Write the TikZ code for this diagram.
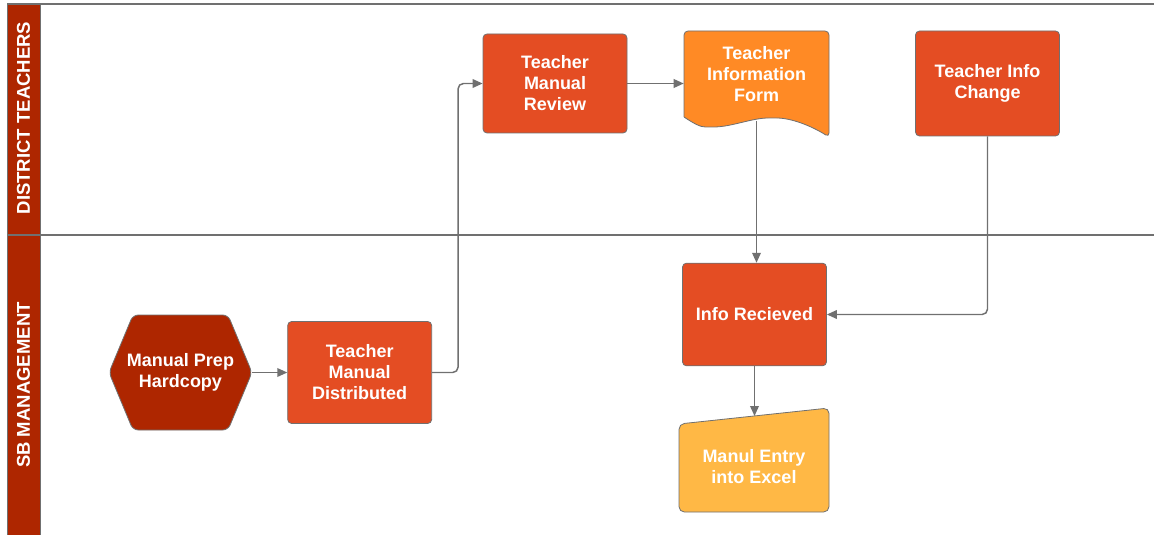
\documentclass[tikz,border=0pt]{standalone}
\usepackage{fontspec}
\setmainfont{Liberation Sans}
\usetikzlibrary{arrows.meta,positioning,backgrounds}
\definecolor{laneRed}{HTML}{AE2600}
\definecolor{boxRed}{HTML}{E44D23}
\definecolor{formOrange}{HTML}{FF8A25}
\definecolor{excelYellow}{HTML}{FFB845}
\definecolor{lineGray}{HTML}{707070}
\tikzset{
    procbox/.style={rectangle, rounded corners=3pt, draw=lineGray, fill=boxRed, line width=0.6pt, minimum width=108pt, minimum height=77pt, align=center, text=white, font=\bfseries\fontsize{13.5}{15.75}\selectfont},
    shapetext/.style={rectangle, minimum width=107.25pt, minimum height=86.25pt, align=center, text=white, font=\bfseries\fontsize{13.5}{15.75}\selectfont},
    lanetext/.style={text=white, font=\bfseries\fontsize{13.9}{17}\selectfont},
    laneline/.style={draw=lineGray, line width=1.1pt},
    hexshape/.style={fill=laneRed, draw=lineGray, line width=0.6pt, rounded corners=4pt},
    formshape/.style={fill=formOrange, draw=lineGray, line width=0.6pt, rounded corners=3pt},
    excelshape/.style={fill=excelYellow, draw=lineGray, line width=0.6pt, rounded corners=4pt},
    flow/.style={draw=lineGray, line width=1.1pt, -{Triangle[length=7.5pt,width=6.5pt]}, rounded corners=4pt}
}
\begin{document}
\begin{tikzpicture}[x=0.75pt, y=-0.75pt, node distance=26.25pt]
    \useasboundingbox (0,0) rectangle (1154,535);
    \begin{scope}[on background layer]
      \fill[white] (0,0) rectangle (1154,535);
    \end{scope}

    % swim lanes
    \filldraw[fill=laneRed, draw=lineGray, line width=0.6pt] (7,4) rectangle (40,535);
    \draw[laneline] (7,235) -- (1154,235);
    \draw[laneline, line width=1.5pt] (7,4) -- (1154,4);
    \node[lanetext, rotate=90] (teachers) at (23.5,118) {DISTRICT TEACHERS};
    \node[lanetext, rotate=90] (management) at (23.5,385) {SB MANAGEMENT};

    % steps
    \node[shapetext] (prep) at (180.5,372.5) {Manual Prep\\Hardcopy};
    \node[procbox, right=of prep, minimum height=76.5pt] (distributed)
      {Teacher\\Manual\\Distributed};
    \node[procbox, minimum height=74.25pt] (review) at (555,83.5)
      {Teacher\\Manual\\Review};
    \node[shapetext, minimum width=108.75pt] (form) at (756.5,74)
      {Teacher\\Information\\Form};
    \node[procbox, minimum height=78.75pt] (change) at (987.5,83.5)
      {Teacher Info\\Change};
    \node[procbox] (received) at (754.5,314.5) {Info Recieved};
    \node[shapetext] (excel) at (754,467) {Manul Entry\\into Excel};

    % shapes behind the texts
    \begin{scope}[on background layer]
      \begin{scope}[shift={(prep.center)}]
        \path[hexshape] (-71.5,0) -- (-47.5,-57.5) -- (47.5,-57.5) -- (71.5,0)
          -- (47.5,57.5) -- (-47.5,57.5) -- cycle;
      \end{scope}
      \begin{scope}[shift={(form.center)}]
        \path[formshape] (-72.5,43) -- (-72.5,-43) -- (72.5,-43) -- (72.5,63)
          .. controls (55,52) and (35,44) .. (16,44)
          .. controls (-5,44) and (-25,53) .. (-47,53)
          .. controls (-56,53) and (-62,50) .. (-72.5,43);
        \coordinate (formfoot) at (0,47);
      \end{scope}
      \begin{scope}[shift={(excel.center)}]
        \path[excelshape] (-75,-43) -- (75,-59) -- (75,45) -- (-75,45) -- cycle;
        \coordinate (exceltop) at (0.5,-51);
      \end{scope}
    \end{scope}

    % connectors
    \draw[flow] (prep) -- (distributed);
    \draw[flow] (distributed.east) -- ++(26,0) |- (review.west);
    \draw[flow] (review.east) -- (review.east -| form.west);
    \draw[flow] (formfoot) -- (formfoot |- received.north);
    \draw[flow] (change.south) |- (received.east);
    \draw[flow] (received.south) -- (exceltop);
\end{tikzpicture}
\end{document}
